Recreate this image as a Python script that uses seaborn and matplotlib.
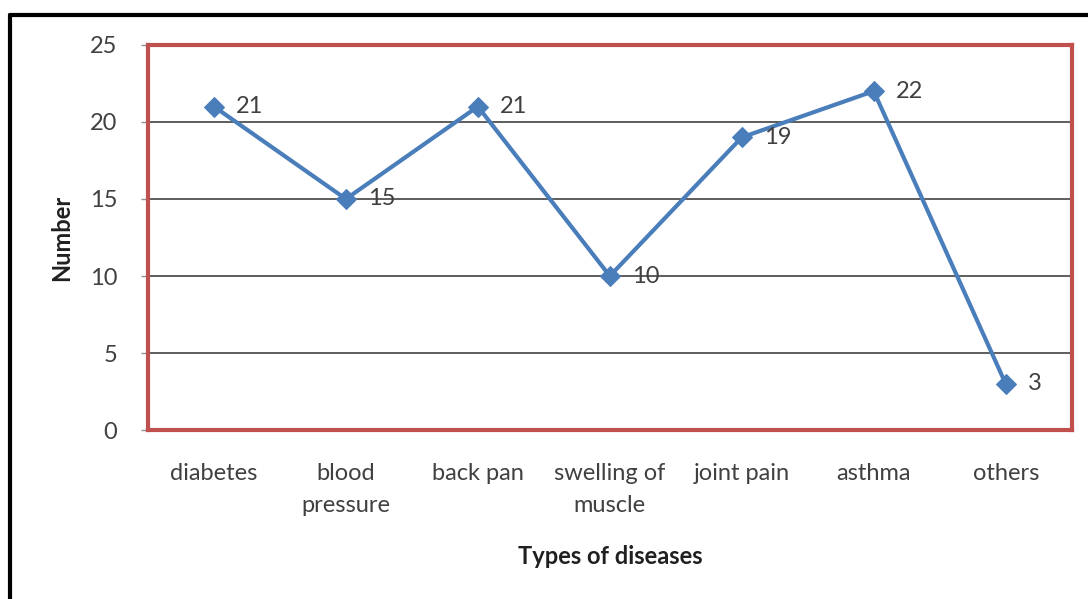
import matplotlib
matplotlib.use("Agg")
import matplotlib.pyplot as plt
from matplotlib.lines import Line2D
import seaborn as sns
import pandas as pd

categories = ["diabetes", "blood\npressure", "back pan", "swelling of\nmuscle",
              "joint pain", "asthma", "others"]
counts = [21, 15, 21, 10, 19, 22, 3]
y_ticks = [0, 5, 10, 15, 20, 25]

sns.set_theme(style="white")
plt.rcParams["font.family"] = ["Lato", "DejaVu Sans"]

text_color = "#404040"
line_color = "#4a7ebb"
frame_color = "#c0504d"
fs = 17

fig = plt.figure(figsize=(10.88, 5.99), dpi=100)
fig.patch.set_facecolor("white")
ax = fig.add_axes([0.136, 0.282, 0.849, 0.643])

df = pd.DataFrame({"pos": range(len(categories)), "count": counts})
sns.lineplot(data=df, x="pos", y="count", ax=ax, color=line_color, linewidth=3,
             marker="D", markersize=10, markeredgecolor=line_color, zorder=3)

for i, v in enumerate(counts):
    ax.annotate(str(v), (i, v), xytext=(22, 0), textcoords="offset pixels",
                ha="left", va="center", fontsize=fs, color=text_color)

ax.set_xlim(-0.5, len(categories) - 0.5)
ax.set_ylim(0, 25)
ax.set_yticks(y_ticks)
ax.set_yticklabels([str(t) for t in y_ticks], fontsize=fs, color=text_color)
ax.set_xticks(range(len(categories)))
ax.set_xticklabels(categories, fontsize=fs, color=text_color, linespacing=1.6)
ax.set_xticks([i - 0.5 for i in range(len(categories) + 1)], minor=True)
ax.tick_params(axis="x", which="major", length=0, pad=24)
ax.tick_params(axis="x", which="minor", length=5, width=1, color="#909090", direction="out")
ax.tick_params(axis="y", which="major", length=5, width=1, color="#909090", direction="out",
               pad=17, left=True)

for t in y_ticks[1:-1]:
    ax.axhline(t, color="#505050", linewidth=1.3, zorder=1)

for s in ax.spines.values():
    s.set_color(frame_color)
    s.set_linewidth(3)

ax.set_xlabel("Types of diseases", fontsize=fs, fontweight="bold", color="#202020", labelpad=21)
ax.set_ylabel("Number", fontsize=fs, fontweight="bold", color="#202020", labelpad=12)

# outer chart border along the top and left edges
fig.add_artist(Line2D([0.009, 1.0], [0.975, 0.975], color="black", linewidth=3,
                      transform=fig.transFigure))
fig.add_artist(Line2D([0.009, 0.009], [0.0, 0.975], color="black", linewidth=3,
                      transform=fig.transFigure))

fig.savefig("out.png", dpi=100, facecolor="white")
